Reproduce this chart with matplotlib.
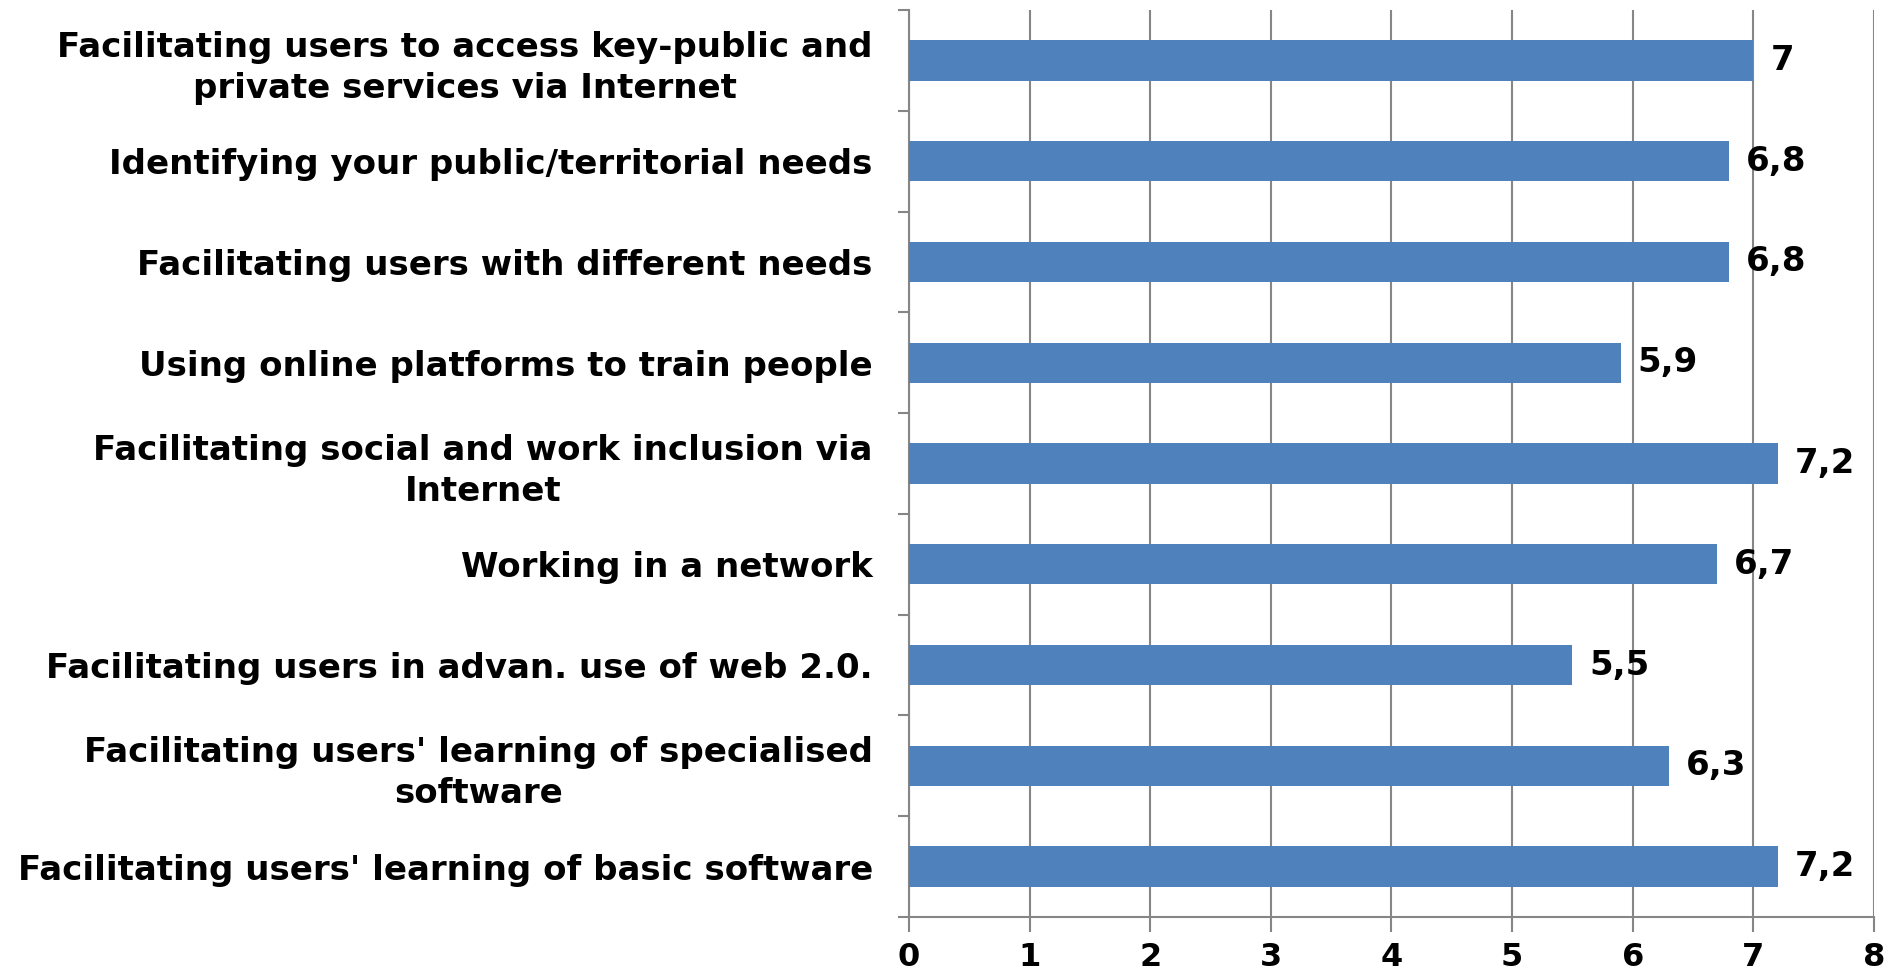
import matplotlib.pyplot as plt
import numpy as np

categories = [
    "Facilitating users to access key-public and\nprivate services via Internet",
    "Identifying your public/territorial needs",
    "Facilitating users with different needs",
    "Using online platforms to train people",
    "Facilitating social and work inclusion via\nInternet",
    "Working in a network",
    "Facilitating users in advan. use of web 2.0.",
    "Facilitating users' learning of specialised\nsoftware",
    "Facilitating users' learning of basic software",
]
values = [7, 6.8, 6.8, 5.9, 7.2, 6.7, 5.5, 6.3, 7.2]
value_labels = ["7", "6,8", "6,8", "5,9", "7,2", "6,7", "5,5", "6,3", "7,2"]

plt.rcParams['font.family'] = ['DejaVu Sans']
plt.rcParams['font.weight'] = 'bold'

fig = plt.figure(figsize=(18.96, 9.73), dpi=100)
ax = fig.add_axes([0.4794, 0.0576, 0.9884 - 0.4794, 0.9897 - 0.0576])

y = np.arange(len(categories))[::-1]
ax.barh(y, values, height=0.4, color='#4F81BD', zorder=3)

for yi, v, lab in zip(y, values, value_labels):
    ax.text(v + 0.14, yi, lab, va='center', ha='left', fontsize=24.5,
            fontweight='bold', color='black')

ax.set_xlim(0, 8)
ax.set_ylim(-0.5, len(categories) - 0.5)
ax.set_xticks(range(0, 9))
ax.set_yticks(y)
ax.set_yticklabels(categories, fontsize=24.5, fontweight='bold', multialignment='center',
                   linespacing=1.3)
ax.set_yticks(np.arange(-0.5, len(categories), 1), minor=True)
ax.tick_params(axis='y', which='major', length=0, pad=26)
ax.tick_params(axis='y', which='minor', length=8, width=1.5, color='#868686', direction='out')
ax.tick_params(axis='x', length=11, width=1.5, color='#868686', labelsize=23, pad=7)
for t in ax.get_xticklabels():
    t.set_fontweight('bold')

ax.grid(axis='x', color='#868686', linewidth=1.5, zorder=0)
for s in ['top', 'right']:
    ax.spines[s].set_visible(False)
for s in ['left', 'bottom']:
    ax.spines[s].set_color('#868686')
    ax.spines[s].set_linewidth(1.5)

fig.savefig('out.png', dpi=100)
